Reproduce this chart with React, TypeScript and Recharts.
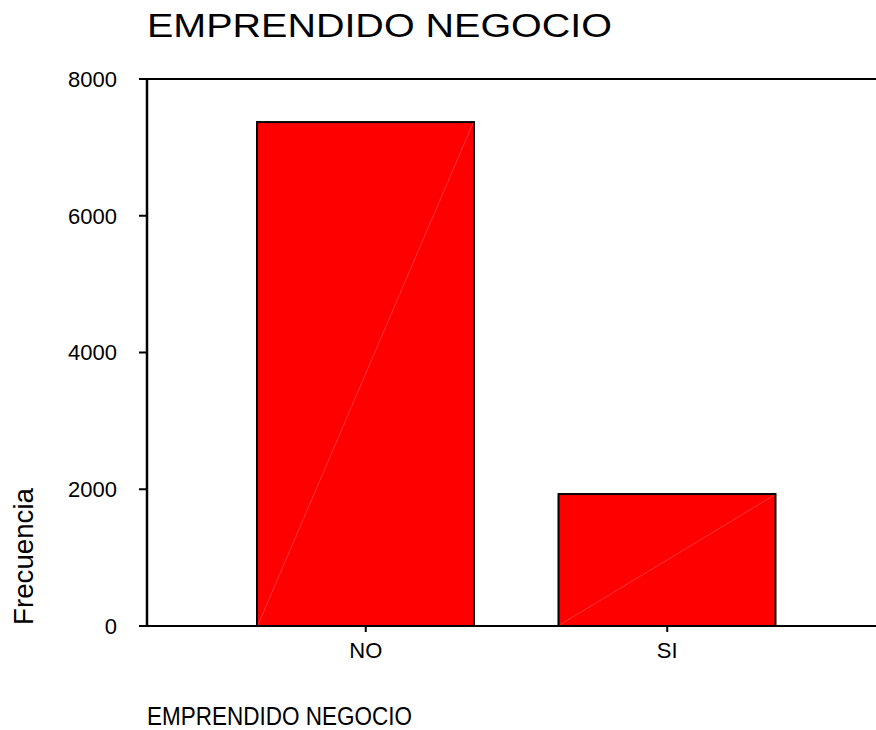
import React from 'react';
import { BarChart, Bar, XAxis, YAxis, ReferenceLine } from 'recharts';

const categories = ['NO', 'SI'];
const frecuencias = [7370, 1930];
const yTicks = [0, 2000, 4000, 6000, 8000];

const FONT = '"Liberation Sans", Arial, sans-serif';

const data = categories.map((c, i) => ({ categoria: c, frecuencia: frecuencias[i] }));

// bar with the thin diagonal seam seen in the original render
const SeamBar = (props: any) => {
    const { x, y, width, height } = props;
    return (
        <g>
            <rect x={x} y={y} width={width} height={height} fill="#ff0000" stroke="#000" strokeWidth={2} />
            <line
                x1={x + 1}
                y1={y + height - 1}
                x2={x + width - 1}
                y2={y + 1}
                stroke="rgba(255,255,255,0.35)"
                strokeWidth={0.6}
            />
        </g>
    );
};

export default function App() {
    return (
        <div style={{ position: 'absolute', left: 0, top: 0, width: 876, height: 730, background: '#fff' }}>
            <BarChart
                width={876}
                height={730}
                data={data}
                margin={{ top: 79, right: 0, bottom: 74, left: 0 }}
            >
                <XAxis
                    dataKey="categoria"
                    height={30}
                    padding={{ left: 68, right: 58 }}
                    axisLine={{ stroke: '#000', strokeWidth: 2 }}
                    tickLine={{ stroke: '#000', strokeWidth: 2 }}
                    tickSize={6}
                    tickMargin={10}
                    tick={{ fill: '#000', fontSize: 22, fontFamily: FONT }}
                />
                <YAxis
                    width={147}
                    domain={[0, 8000]}
                    ticks={yTicks}
                    axisLine={{ stroke: '#000', strokeWidth: 2.5 }}
                    tickLine={{ stroke: '#000', strokeWidth: 2 }}
                    tickSize={8}
                    tickMargin={22}
                    tick={{ fill: '#000', fontSize: 22, fontFamily: FONT }}
                />
                <ReferenceLine y={8000} stroke="#000" strokeWidth={2} />
                <Bar dataKey="frecuencia" barSize={217} shape={SeamBar} isAnimationActive={false} />
            </BarChart>
            <svg
                width={876}
                height={730}
                style={{ position: 'absolute', left: 0, top: 0, pointerEvents: 'none' }}
            >
                <text x={147} y={37} fontSize={34} fontFamily={FONT} fill="#000" textLength={465} lengthAdjust="spacingAndGlyphs">
                    EMPRENDIDO NEGOCIO
                </text>
                <text x={147} y={725} fontSize={25} fontFamily={FONT} fill="#000" textLength={265} lengthAdjust="spacingAndGlyphs">
                    EMPRENDIDO NEGOCIO
                </text>
                <text
                    x={33}
                    y={625}
                    fontSize={27}
                    fontFamily={FONT}
                    fill="#000"
                    transform="rotate(-90, 33, 625)"
                    textLength={137}
                    lengthAdjust="spacingAndGlyphs"
                >
                    Frecuencia
                </text>
            </svg>
        </div>
    );
}
